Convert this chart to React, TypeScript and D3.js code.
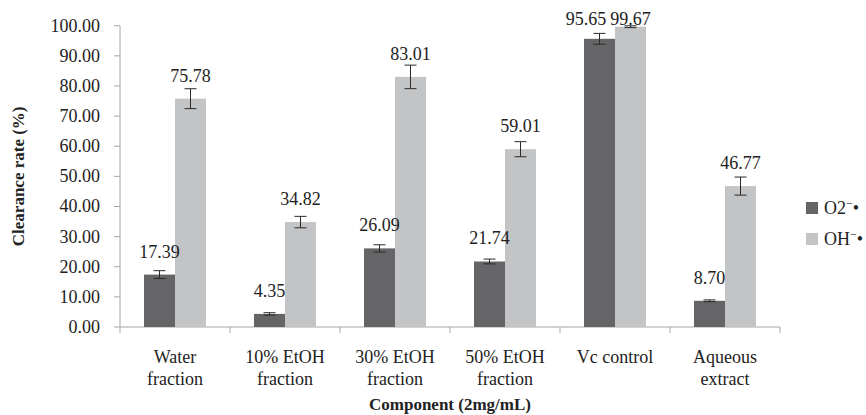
import * as d3 from 'd3';
import React from 'react';

const categories = [
  ['Water', 'fraction'],
  ['10% EtOH', 'fraction'],
  ['30% EtOH', 'fraction'],
  ['50% EtOH', 'fraction'],
  ['Vc control'],
  ['Aqueous', 'extract'],
];
const o2Values = [17.39, 4.35, 26.09, 21.74, 95.65, 8.7];
const o2Errors = [1.3, 0.4, 1.2, 0.8, 1.8, 0.3];
const ohValues = [75.78, 34.82, 83.01, 59.01, 99.67, 46.77];
const ohErrors = [3.3, 1.9, 3.9, 2.5, 0.3, 3.0];
const yTicks = [0, 10, 20, 30, 40, 50, 60, 70, 80, 90, 100];

const DARK = '#656567';
const LIGHT = '#c3c4c6';
const AXIS = '#a6a6a6';
const FONT = "'Liberation Serif'";
const FS = 18;

const left = 120;
const right = 780;
const top = 25.7;
const bottom = 327;
const barW = 31;

const x = d3
  .scaleBand<number>()
  .domain(categories.map((_, i) => i))
  .range([left, right]);
const y = d3.scaleLinear().domain([0, 100]).range([bottom, top]);

const series = [
  { values: o2Values, errors: o2Errors, color: DARK, offset: -barW },
  { values: ohValues, errors: ohErrors, color: LIGHT, offset: 0 },
];

const legend = [
  { name: 'O2', color: DARK },
  { name: 'OH', color: LIGHT },
];

const txtStyle = (size = FS, bold = false): React.CSSProperties => ({
  fontFamily: FONT,
  fontSize: `${size}px`,
  fontWeight: bold ? 'bold' : 'normal',
  fill: '#222',
});

// rough text width for Times digits
const textW = (s: string) => s.length * FS * 0.5 - FS * 0.25;
const labelY = (v: number) => Math.max(y(v) - 17, 25);

const App: React.FC = () => {
  return (
    <svg width={866} height={415} style={{ position: 'absolute', left: 0, top: 0 }}>
      <rect width={866} height={415} fill="#fff" />
      {/* y axis */}
      <line x1={left} x2={left} y1={y(100)} y2={y(0)} stroke={AXIS} />
      {yTicks.map(t => (
        <g key={t}>
          <line x1={left - 6} x2={left} y1={y(t)} y2={y(t)} stroke={AXIS} />
          <text x={left - 20} y={y(t) + 6} textAnchor="end" style={txtStyle()}>
            {t.toFixed(2)}
          </text>
        </g>
      ))}

      {/* x axis */}
      <line x1={left} x2={right} y1={y(0)} y2={y(0)} stroke={AXIS} />
      {d3.range(categories.length + 1).map(i => {
        const xx = left + i * x.bandwidth();
        return <line key={i} x1={xx} x2={xx} y1={y(0)} y2={y(0) + 6} stroke={AXIS} />;
      })}

      {/* bars and error bars */}
      {series.map((s, si) =>
        s.values.map((v, i) => {
          const bx = x(i)! + x.bandwidth() / 2 + s.offset;
          const mid = bx + barW / 2;
          const e = s.errors[i];
          return (
            <g key={`${si}-${i}`}>
              <rect x={bx} y={y(v)} width={barW} height={y(0) - y(v)} fill={s.color} />
              <g stroke="#2a2a2a" strokeWidth={1}>
                <line x1={mid} x2={mid} y1={y(v + e)} y2={y(v - e)} />
                <line x1={mid - 6} x2={mid + 6} y1={y(v + e)} y2={y(v + e)} />
                <line x1={mid - 6} x2={mid + 6} y1={y(v - e)} y2={y(v - e)} />
              </g>
            </g>
          );
        })
      )}

      {/* value labels on top of everything */}
      {series.map((s, si) =>
        s.values.map((v, i) => {
          const mid = x(i)! + x.bandwidth() / 2 + s.offset + barW / 2;
          let lx = mid;
          if (si === 0) {
            // nudge left if it would collide with the neighbour's label
            const other = ohValues[i];
            if (Math.abs(labelY(v) - labelY(other)) < FS) {
              const limit = mid + barW - textW(other.toFixed(2)) / 2 - 4 - textW(v.toFixed(2)) / 2;
              lx = Math.min(mid, limit);
            }
          }
          return (
            <text key={`l${si}-${i}`} x={lx} y={labelY(v)} textAnchor="middle" style={txtStyle()}>
              {v.toFixed(2)}
            </text>
          );
        })
      )}

      {/* category labels */}
      {categories.map((lines, i) => {
        const cx = x(i)! + x.bandwidth() / 2;
        return lines.map((ln, j) => (
          <text key={`${i}-${j}`} x={cx} y={363 + j * 22} textAnchor="middle" style={txtStyle()}>
            {ln}
          </text>
        ));
      })}

      {/* axis titles */}
      <text x={450} y={410} textAnchor="middle" style={txtStyle(17, true)}>
        Component (2mg/mL)
      </text>
      <text
        transform={`translate(24,${(top + bottom) / 2}) rotate(-90)`}
        textAnchor="middle"
        style={txtStyle(17, true)}
      >
        Clearance rate (%)
      </text>

      {/* legend */}
      {legend.map((l, i) => {
        const ly = 202 + i * 31;
        return (
          <g key={l.name}>
            <rect x={806} y={ly} width={12} height={12} fill={l.color} />
            <text x={824} y={ly + 12} style={txtStyle()}>
              <tspan>{l.name}</tspan>
              <tspan dy={-7} style={{ fontSize: '12px' }}>{'\u2212'}</tspan>
              <tspan dy={7}>{'\u2022'}</tspan>
            </text>
          </g>
        );
      })}
    </svg>
  );
};

export default App;
